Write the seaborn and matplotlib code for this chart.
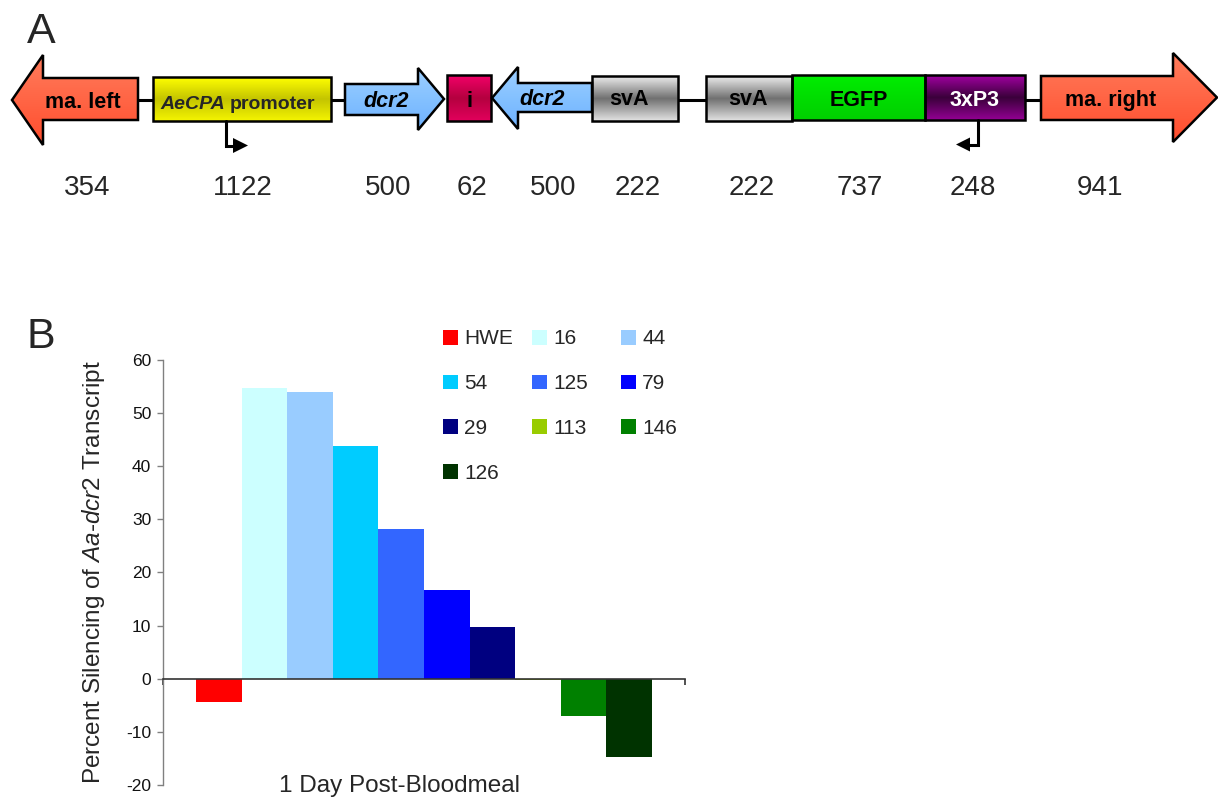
import numpy as np
import pandas as pd
import matplotlib
matplotlib.use("Agg")
import matplotlib.pyplot as plt
from matplotlib.patches import Polygon, Patch
from matplotlib.lines import Line2D
from matplotlib.colors import to_rgb
import seaborn as sns

# ---------------- Panel B: silencing data ----------------
day_label = "1 Day Post-Bloodmeal"
lines = ["HWE", "16", "44", "54", "125", "79", "29", "113", "146", "126"]
silencing = [-4.4, 54.6, 53.9, 43.8, 28.1, 16.7, 9.7, -0.3, -7.1, -14.7]
line_colors = ["#ff0000", "#ccffff", "#99ccff", "#00ccff", "#3366ff",
               "#0000ff", "#000080", "#99cc00", "#008000", "#003300"]
y_ticks = [-20, -10, 0, 10, 20, 30, 40, 50, 60]

# ---------------- Panel A: construct elements ----------------
elements = ["ma. left", "AeCPA promoter", "dcr2", "i", "dcr2",
            "svA", "svA", "EGFP", "3xP3", "ma. right"]
element_bp = [354, 1122, 500, 62, 500, 222, 222, 737, 248, 941]

sns.set_style("white")
plt.rcParams["font.family"] = ["Liberation Sans", "DejaVu Sans"]
plt.rcParams["axes.unicode_minus"] = False
plt.rcParams["mathtext.fontset"] = "custom"
plt.rcParams["mathtext.rm"] = "Liberation Sans"
plt.rcParams["mathtext.it"] = "Liberation Sans:italic"

W, H = 1218, 797
fig = plt.figure(figsize=(W / 100, H / 100), dpi=100)

# overlay canvas in pixel units for the construct schematic
ax_a = fig.add_axes([0, 0, 1, 1], zorder=0)
ax_a.set_xlim(0, W)
ax_a.set_ylim(H, 0)
ax_a.axis("off")

# schematic layout: shape, x-extent, body y-extent, head, gradient, text style
layout = [
    dict(kind="larrow", x0=12, hb=43, x1=138, by=(78, 120), hy=(55, 145),
         cols=("#ff7c5c", "#ff6545", "#ff4d2d"), tx=83, base=108, fc="black", num_x=87),
    dict(kind="box", x0=153, x1=331, by=(77, 121),
         cols=("#ffff00", "#c4c400", "#f4f400"), tx=None, base=109, fc="black", num_x=243),
    dict(kind="rarrow", x0=345, hb=418, x1=444, by=(84, 115), hy=(68, 130),
         cols=("#9dcfff", "#84c1ff", "#6fb2ff"), tx=386, base=106.5, fc="black", num_x=388),
    dict(kind="box", x0=447, x1=491, by=(75, 121),
         cols=("#f20068", "#b4003f", "#e2005c"), tx=469, base=107, fc="black", num_x=472),
    dict(kind="larrow", x0=492, hb=518, x1=592, by=(83, 112), hy=(67, 129),
         cols=("#9dcfff", "#84c1ff", "#6fb2ff"), tx=542, base=105, fc="black", num_x=553),
    dict(kind="box", x0=592, x1=678, by=(76, 121),
         cols=("#ececec", "#707070", "#e2e2e2"), tx=629, base=105, fc="black", num_x=638),
    dict(kind="box", x0=706, x1=792, by=(76, 121),
         cols=("#ececec", "#707070", "#e2e2e2"), tx=748, base=105, fc="black", num_x=752),
    dict(kind="box", x0=792, x1=925, by=(75, 120),
         cols=("#00ee00", "#00dd00", "#00d000"), tx=859, base=105.5, fc="black", num_x=860),
    dict(kind="box", x0=925, x1=1025, by=(75, 120),
         cols=("#a000a0", "#3a003a", "#920092"), tx=975, base=105.5, fc="white", num_x=973),
    dict(kind="rarrow", x0=1041, hb=1173, x1=1217, by=(76, 120), hy=(53, 142),
         cols=("#ff7c5c", "#ff6545", "#ff4d2d"), tx=1111, base=105.5, fc="black", num_x=1100),
]

edge_lw = 1.8


def shape_vertices(s):
    by0, by1 = s["by"]
    if s["kind"] == "box":
        return [(s["x0"], by0), (s["x1"], by0), (s["x1"], by1), (s["x0"], by1)], (by0, by1)
    hy0, hy1 = s["hy"]
    yc = (hy0 + hy1) / 2
    if s["kind"] == "larrow":
        v = [(s["x0"], yc), (s["hb"], hy0), (s["hb"], by0), (s["x1"], by0),
             (s["x1"], by1), (s["hb"], by1), (s["hb"], hy1)]
    else:
        v = [(s["x0"], by0), (s["hb"], by0), (s["hb"], hy0), (s["x1"], yc),
             (s["hb"], hy1), (s["hb"], by1), (s["x0"], by1)]
    return v, (hy0, hy1)


def gradient(cols, n=64):
    top, mid, bot = (np.array(to_rgb(c)) for c in cols)
    t = np.linspace(0, 1, n)[:, None]
    upper = top + (mid - top) * np.clip(t * 2, 0, 1)
    lower = mid + (bot - mid) * np.clip(t * 2 - 1, 0, 1)
    arr = np.where(t < 0.5, upper, lower)
    return arr[:, None, :].repeat(2, axis=1)


# connectors between elements
for xa, xb in [(138, 153), (331, 345), (678, 706), (1025, 1041)]:
    ax_a.add_line(Line2D([xa, xb], [100, 100], color="black", lw=2.2, zorder=1))

for s in layout:
    verts, (ymin, ymax) = shape_vertices(s)
    xs = [v[0] for v in verts]
    poly = Polygon(verts, closed=True, facecolor="none", edgecolor="black",
                   lw=edge_lw, joinstyle="miter", zorder=3)
    ax_a.add_patch(poly)
    im = ax_a.imshow(gradient(s["cols"]), extent=(min(xs), max(xs), ymax, ymin),
                     aspect="auto", interpolation="bilinear", zorder=2)
    im.set_clip_path(poly)

# element names inside the shapes
label_kw = dict(fontsize=15.5, fontweight="bold", ha="center", va="baseline", zorder=4)
for name, s in zip(elements, layout):
    if s["tx"] is None:
        continue
    italic = "italic" if name == "dcr2" else "normal"
    ax_a.text(s["tx"], s["base"], name, color=s["fc"], fontstyle=italic, **label_kw)

# promoter label: species prefix in italics
prom = layout[1]
gene, word = elements[1].split(" ")
ax_a.text(225, prom["base"], gene, fontsize=14, fontweight="bold", fontstyle="italic",
          ha="right", va="baseline", zorder=4)
ax_a.text(230, prom["base"], word, fontsize=14, fontweight="bold",
          ha="left", va="baseline", zorder=4)

# transcription start arrows
ax_a.add_line(Line2D([226, 226, 236], [121, 145.5, 145.5], color="black", lw=2.2,
                     solid_joinstyle="miter", zorder=3))
ax_a.add_patch(Polygon([(233, 138), (248, 145.5), (233, 153)], closed=True,
                       facecolor="black", edgecolor="none", zorder=3))
ax_a.add_line(Line2D([978, 978, 968], [120, 144.5, 144.5], color="black", lw=2.2,
                     solid_joinstyle="miter", zorder=3))
ax_a.add_patch(Polygon([(970, 137.5), (956, 144.5), (970, 151.5)], closed=True,
                       facecolor="black", edgecolor="none", zorder=3))

# element sizes (bp)
for bp, s in zip(element_bp, layout):
    ax_a.text(s["num_x"], 195, str(bp), fontsize=20, ha="center", va="baseline")

# panel letters
ax_a.text(41, 43, "A", fontsize=31, ha="center", va="baseline")
ax_a.text(41, 348, "B", fontsize=31, ha="center", va="baseline")

# ---------------- Panel B: bar chart ----------------
ax_b = fig.add_axes([163 / W, 1 - 785 / H, 522 / W, 425.3 / H], zorder=1)
ax_b.patch.set_alpha(0)

df = pd.DataFrame({"day": [day_label] * len(lines), "line": lines, "silencing": silencing})
palette = dict(zip(lines, line_colors))
sns.barplot(data=df, x="day", y="silencing", hue="line", hue_order=lines,
            palette=palette, width=0.872, errorbar=None, saturation=1,
            edgecolor="none", linewidth=0, legend=False, ax=ax_b)

ax_b.set_xlim(-0.5, 0.5)
ax_b.set_ylim(-20, 60)
ax_b.set_yticks(y_ticks)
ax_b.set_xticks([-0.5, 0.5])
ax_b.set_xticklabels([])
ax_b.set_xlabel("")

for side in ("top", "right"):
    ax_b.spines[side].set_visible(False)
ax_b.spines["bottom"].set_position(("data", 0))
ax_b.spines["bottom"].set_color("#333333")
ax_b.spines["bottom"].set_linewidth(1.2)
ax_b.spines["left"].set_color("#808080")
ax_b.spines["left"].set_linewidth(1.0)

ax_b.tick_params(axis="x", bottom=True, direction="out", length=4, width=1.2,
                 color="#333333")
ax_b.tick_params(axis="y", left=True, direction="out", length=4.5, width=1,
                 color="#808080", labelsize=12.5, pad=4, labelcolor="#111111")

ax_b.set_ylabel(r"Percent Silencing of $\mathit{Aa}$-$\mathit{dcr2}$ Transcript",
                fontsize=17.5, labelpad=14)
ax_b.text(0.454, -0.0165, day_label, transform=ax_b.transAxes,
          ha="center", va="baseline", fontsize=17.5)

# legend laid out in three fixed-width columns
handles = [Patch(facecolor=palette[l], edgecolor="none") for l in lines]
col_x = [443, 532, 621]
for c, x in enumerate(col_x):
    idx = list(range(c, len(lines), 3))
    fig.legend([handles[i] for i in idx], [lines[i] for i in idx],
               loc="upper left", bbox_to_anchor=(x / W, 1 - 329.5 / H),
               frameon=False, fontsize=15, handlelength=0.72, handleheight=0.72,
               handletextpad=0.3, labelspacing=1.24, borderpad=0, borderaxespad=0)

fig.savefig("out.png", dpi=100)
